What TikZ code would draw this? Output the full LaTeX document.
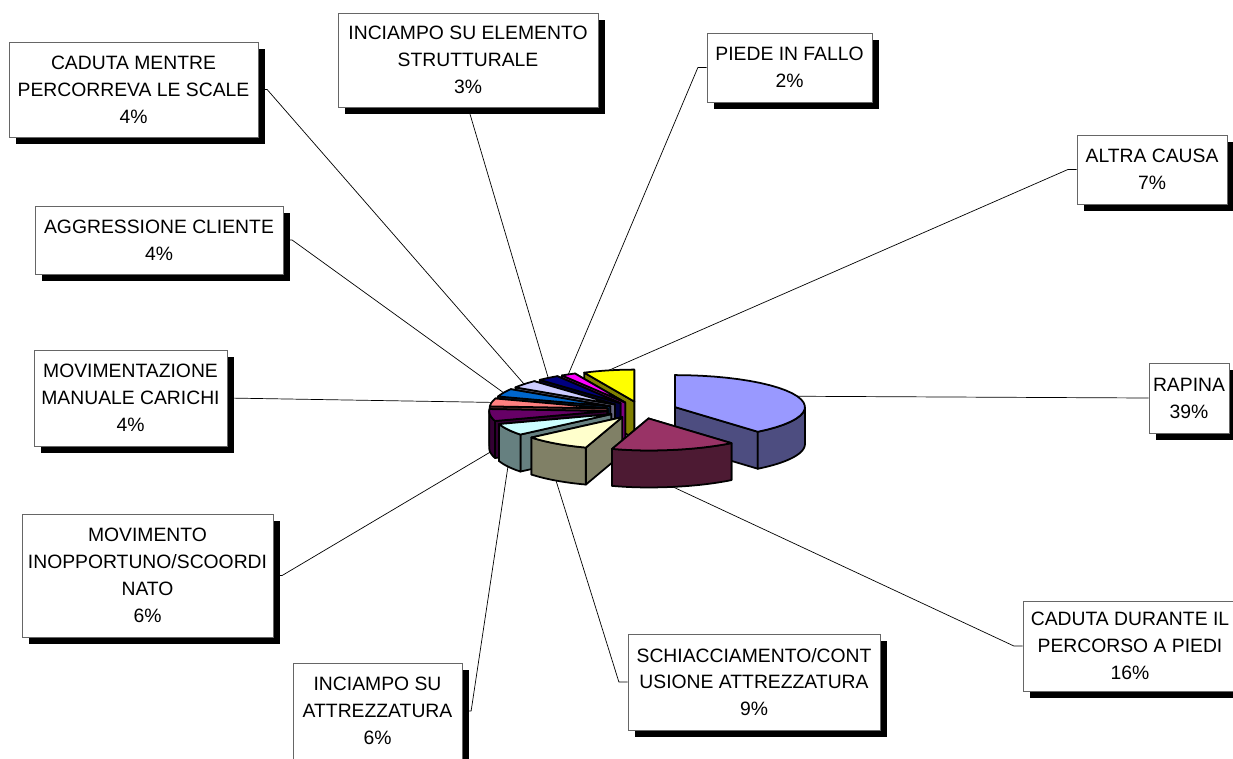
\documentclass[tikz,border=0pt]{standalone}
\usepackage{fontspec}
\setmainfont{Liberation Sans}
\usepackage{xcolor}
\usetikzlibrary{shadows,backgrounds}

\definecolor{peritop}{HTML}{9999FF}\definecolor{periside}{HTML}{4D4D80}
\definecolor{plumtop}{HTML}{993366}\definecolor{plumside}{HTML}{4D1A33}
\definecolor{cretop}{HTML}{FFFFCC}\definecolor{creside}{HTML}{808066}
\definecolor{cyatop}{HTML}{CCFFFF}\definecolor{cyaside}{HTML}{668080}
\definecolor{purtop}{HTML}{660066}\definecolor{purside}{HTML}{330033}
\definecolor{cortop}{HTML}{FF8080}\definecolor{corside}{HTML}{804040}
\definecolor{blutop}{HTML}{0066CC}\definecolor{bluside}{HTML}{003366}
\definecolor{lavtop}{HTML}{CCCCFF}\definecolor{lavside}{HTML}{666680}
\definecolor{navtop}{HTML}{000080}\definecolor{navside}{HTML}{000040}
\definecolor{magtop}{HTML}{FF00FF}\definecolor{magside}{HTML}{800080}
\definecolor{yeltop}{HTML}{FFFF00}\definecolor{yelside}{HTML}{808000}

% slice: name, from angle, to angle, top colour, side colour
\newcommand{\pieslice}[5]{%
  \pgfmathsetmacro{\midang}{(#2+#3)/2}
  \pgfmathsetmacro{\apx}{642+35*cos(\midang)}
  \pgfmathsetmacro{\apy}{410-8.6*sin(\midang)}
  \foreach \ang in {#2,#3}
    \filldraw[fill=#5] (\apx,\apy) -- ({\apx+rx(\ang)*cos(\ang)},{\apy-32*sin(\ang)}) -- ++(0,37) -- (\apx,\apy+37) -- cycle;
  \pgfmathsetmacro{\lox}{max(#2,-180)}
  \pgfmathsetmacro{\hix}{min(#3,0)}
  \ifdim\lox pt<\hix pt
    \filldraw[fill=#5] plot[domain=\lox:\hix] ({\apx+rx(\x)*cos(\x)},{\apy-32*sin(\x)})
      -- plot[domain=\hix:\lox] ({\apx+rx(\x)*cos(\x)},{\apy+37-32*sin(\x)}) -- cycle;
  \fi
  \filldraw[fill=#4] (\apx,\apy) -- plot[domain=#2:#3] ({\apx+rx(\x)*cos(\x)},{\apy-32*sin(\x)}) -- cycle;
  \pgfmathsetmacro{\ldy}{410-40.6*sin(\midang)+37*(sin(\midang)<0)}
  \coordinate (#1) at ({\apx+rx(\midang)*cos(\midang)},\ldy);
}

\begin{document}
\begin{tikzpicture}[x=0.02cm, y=-0.02cm,
    declare function={rx(\t)=(cos(\t)>0)*130+(cos(\t)<=0)*118;},
    box/.style 2 args={draw=black!60, fill=white, align=center, inner sep=1pt,
      font=\fontsize{11}{15.3}\selectfont, minimum width=#1, minimum height=#2,
      drop shadow={shadow xshift=4pt, shadow yshift=-4pt, opacity=1, fill=black}}]
    \useasboundingbox (0,0) rectangle (1233,758);

    % pie, back to front
    \begin{scope}[line width=1pt, line join=round]
        \pieslice{ac}{90}{115.2}{yeltop}{yelside}
        \pieslice{pf}{115.2}{122.4}{magtop}{magside}
        \pieslice{ie}{122.4}{133.2}{navtop}{navside}
        \pieslice{cs}{133.2}{147.6}{lavtop}{lavside}
        \pieslice{ag}{147.6}{162}{blutop}{bluside}
        \pieslice{r}{-50.4}{90}{peritop}{periside}
        \pieslice{mm}{162}{176.4}{cortop}{corside}
        \pieslice{mi}{-183.6}{-162}{purtop}{purside}
        \pieslice{ia}{-162}{-140.4}{cyatop}{cyaside}
        \pieslice{sc}{-140.4}{-108}{cretop}{creside}
        \pieslice{cp}{-108}{-50.4}{plumtop}{plumside}
    \end{scope}

    \node[box={4.98cm}{1.90cm}] (CS) at (133.5,89.5) {CADUTA MENTRE\\PERCORREVA LE SCALE\\4\%};
    \node[box={5.20cm}{1.88cm}] (IE) at (468,60) {INCIAMPO SU ELEMENTO\\STRUTTURALE\\3\%};
    \node[box={3.30cm}{1.38cm}] (PF) at (789.5,67.5) {PIEDE IN FALLO\\2\%};
    \node[box={3.00cm}{1.38cm}] (AC) at (1152,169.5) {ALTRA CAUSA\\7\%};
    \node[box={4.96cm}{1.36cm}] (AG) at (159,240) {AGGRESSIONE CLIENTE\\4\%};
    \node[box={1.60cm}{1.40cm}] (R) at (1189,398) {RAPINA\\39\%};
    \node[box={3.86cm}{1.92cm}] (MM) at (130.5,398) {MOVIMENTAZIONE\\MANUALE CARICHI\\4\%};
    \node[box={5.02cm}{2.46cm}] (MI) at (147.5,575.5) {MOVIMENTO\\INOPPORTUNO/SCOORDI\\NATO\\6\%};
    \node[box={4.28cm}{1.80cm}] (CP) at (1130,646) {CADUTA DURANTE IL\\PERCORSO A PIEDI\\16\%};
    \node[box={5.04cm}{1.92cm}] (SC) at (754,682) {SCHIACCIAMENTO/CONT\\USIONE ATTREZZATURA\\9\%};
    \node[box={3.38cm}{1.92cm}] (IA) at (377.5,711) {INCIAMPO SU\\ATTREZZATURA\\6\%};

    \begin{pgfonlayer}{background}
        \draw (cs) -- ([xshift=5pt]CS.east) -- (CS.east);
        \draw (ie) -- (IE.south);
        \draw (pf) -- ([xshift=-5pt]PF.west) -- (PF.west);
        \draw (ac) -- ([xshift=-5pt]AC.west) -- (AC.west);
        \draw (ag) -- ([xshift=5pt]AG.east) -- (AG.east);
        \draw (r) -- (R.west);
        \draw (mm) -- (MM.east);
        \draw (mi) -- ([xshift=5pt]MI.east) -- (MI.east);
        \draw (cp) -- ([xshift=-5pt]CP.west) -- (CP.west);
        \draw (sc) -- ([xshift=-5pt]SC.west) -- (SC.west);
        \draw (ia) -- ([xshift=5pt]IA.east) -- (IA.east);
    \end{pgfonlayer}
\end{tikzpicture}
\end{document}
